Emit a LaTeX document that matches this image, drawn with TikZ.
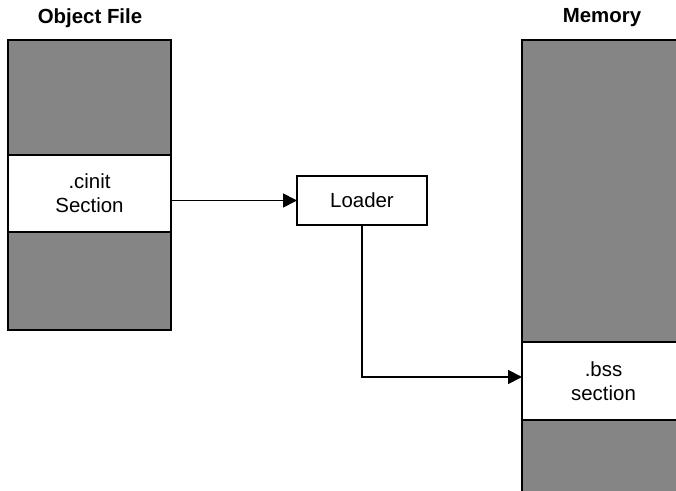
\documentclass[tikz,border=0pt]{standalone}
\usepackage{fontspec}
\setmainfont{Liberation Sans}
\usetikzlibrary{arrows.meta}
\begin{document}
\begin{tikzpicture}[x=1bp,y=-1bp,
  blk/.style={draw=black,line width=2.5bp,inner sep=0pt,outer sep=0pt,minimum width=163bp},
  shade/.style={blk,fill=black!48},
  sect/.style={blk,fill=white,align=center,font=\fontsize{20.5}{24}\selectfont},
  title/.style={font=\bfseries\fontsize{20.5}{24}\selectfont},
  arr/.style={line width=1.8bp,-{Triangle[length=14bp,width=14bp]}}]
\useasboundingbox (0,0) rectangle (676,491);
% Object file column
\node[shade,minimum height=115bp] (otop) at (89.5,97.5) {};
\node[shade,minimum height=98bp] (obot) at (89.5,281) {};
\node[sect,minimum height=77bp] (cinit) at (89.5,193.5) {.cinit\\Section};
\node[title] (otitle) at (90,18) {Object File};
% Memory column
\node[shade,minimum height=302bp] (mtop) at (603.5,191) {};
\node[shade,minimum height=75bp] (mbot) at (603.5,457.5) {};
\node[sect,minimum height=78bp] (bss) at (603.5,381) {.bss\\section};
\node[title] (mtitle) at (602,18) {Memory};
% Loader
\node[draw=black,line width=2bp,minimum width=130bp,minimum height=49bp,inner sep=0pt,outer sep=0pt,font=\fontsize{20.5}{24}\selectfont] (loader) at (362,200.5) {Loader};
% Connectors
\draw[arr] (cinit.east |- loader.west) -- (loader.west);
\draw[arr] (loader.south) |- ([yshift=4bp]bss.west);
\end{tikzpicture}
\end{document}
